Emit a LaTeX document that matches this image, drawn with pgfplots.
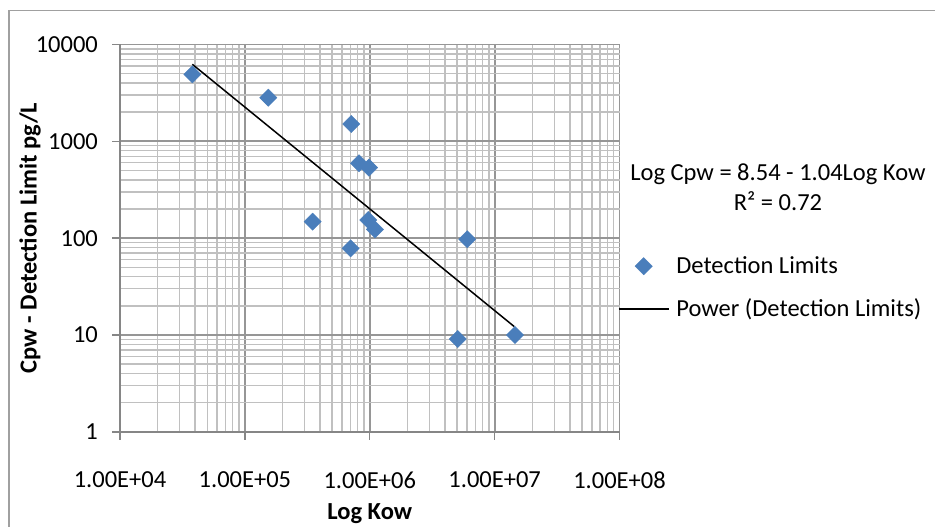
\documentclass[border=0pt]{standalone}
\usepackage{pgfplots}
\pgfplotsset{compat=1.18}
\usepackage{fontspec}
\setmainfont{Carlito}
\definecolor{ptblue}{RGB}{74,126,187}
\definecolor{gridmajor}{RGB}{150,150,150}
\definecolor{gridminor}{RGB}{192,192,192}
\definecolor{axisgray}{RGB}{134,134,134}
\definecolor{bordergray}{RGB}{160,160,160}
\newcommand{\cfont}{\fontsize{24.5bp}{28bp}\selectfont}
\pgfplotsset{
  scatterleg/.style={legend image code/.code={\draw[mark repeat=2,mark phase=2,##1] plot coordinates {(0bp,7.7bp) (25bp,7.7bp) (50bp,7.7bp)};}},
  lineleg/.style={legend image code/.code={\draw[##1] (0bp,7.3bp) -- (50bp,7.3bp);}},
}
\begin{document}
\begin{tikzpicture}
\useasboundingbox (-120bp,-95.2bp) rectangle (815bp,431.8bp);
\fill[white] (-120bp,-95.2bp) rectangle (815bp,431.8bp);
\draw[bordergray, line width=1.5bp] (-111bp,-150bp) rectangle (900bp,421.3bp);
\begin{axis}[
  at={(0,0)}, anchor=south west,
  scale only axis, width=499.5bp, height=387.3bp,
  xmode=log, ymode=log,
  xmin=1e4, xmax=1e8, ymin=1, ymax=1e4,
  axis lines=left, axis line style={-, axisgray, line width=1.4bp},
  grid=both,
  major grid style={gridmajor, line width=1.8bp},
  minor grid style={gridminor, line width=1.4bp},
  xtick={1e4,1e5,1e6,1e7,1e8},
  xticklabels={1.00E+04,1.00E+05,1.00E+06,1.00E+07,1.00E+08},
  ytick={1,10,100,1000,10000},
  yticklabels={1,10,100,1000,10000},
  minor xtick={2e4,3e4,4e4,5e4,6e4,7e4,8e4,9e4,2e5,3e5,4e5,5e5,6e5,7e5,8e5,9e5,2e6,3e6,4e6,5e6,6e6,7e6,8e6,9e6,2e7,3e7,4e7,5e7,6e7,7e7,8e7,9e7},
  minor ytick={2,3,4,5,6,7,8,9,20,30,40,50,60,70,80,90,200,300,400,500,600,700,800,900,2000,3000,4000,5000,6000,7000,8000,9000},
  tick align=outside,
  major tick length=8bp, minor tick length=0pt,
  tick style={axisgray, line width=1.4bp},
  xticklabel style={font=\cfont, inner sep=0pt, anchor=north, yshift=-32bp},
  yticklabel style={font=\cfont, inner sep=0pt, anchor=east, xshift=-14bp},
  xlabel={Log Kow},
  ylabel={Cpw - Detection Limit pg/L},
  xlabel style={font=\cfont\bfseries, at={(axis description cs:0.5,-0.2252)}, anchor=base, inner sep=0pt},
  ylabel style={font=\cfont\bfseries, at={(axis description cs:-0.1668,0.5)}, anchor=base, inner sep=0pt},
  clip=false,
  legend style={draw=none, fill=none, at={(axis description cs:0.9904,0.457)}, anchor=north west,
    font=\cfont, nodes={inner sep=0pt, anchor=base west}, row sep=23bp, column sep=7bp},
  legend cell align=left,
]
\addplot[only marks, mark=square*, mark size=6.1bp, mark options={rotate=45, fill=ptblue, draw=ptblue}, scatterleg]
  coordinates {
  (37960,4920) (154000,2822) (711000,1510) (820000,593) (986000,535)
  (349000,148) (973000,154) (1100000,123) (703000,78.5) (6040000,97.3)
  (5060000,9.09) (14550000,10.0)
  };
\addlegendentry{Detection Limits}
\addplot[black, line width=1.5bp, no marks, lineleg]
  coordinates {(37960,6245) (14370000,12.2)};
\addlegendentry{Power (Detection Limits)}
\node[font=\cfont, anchor=base, inner sep=0pt] at (axis description cs:1.3173,0.6501) {Log Cpw = 8.54 - 1.04Log Kow};
\node[font=\cfont, anchor=base, inner sep=0pt] at (axis description cs:1.3173,0.5726) {R² = 0.72};
\end{axis}
\end{tikzpicture}
\end{document}
